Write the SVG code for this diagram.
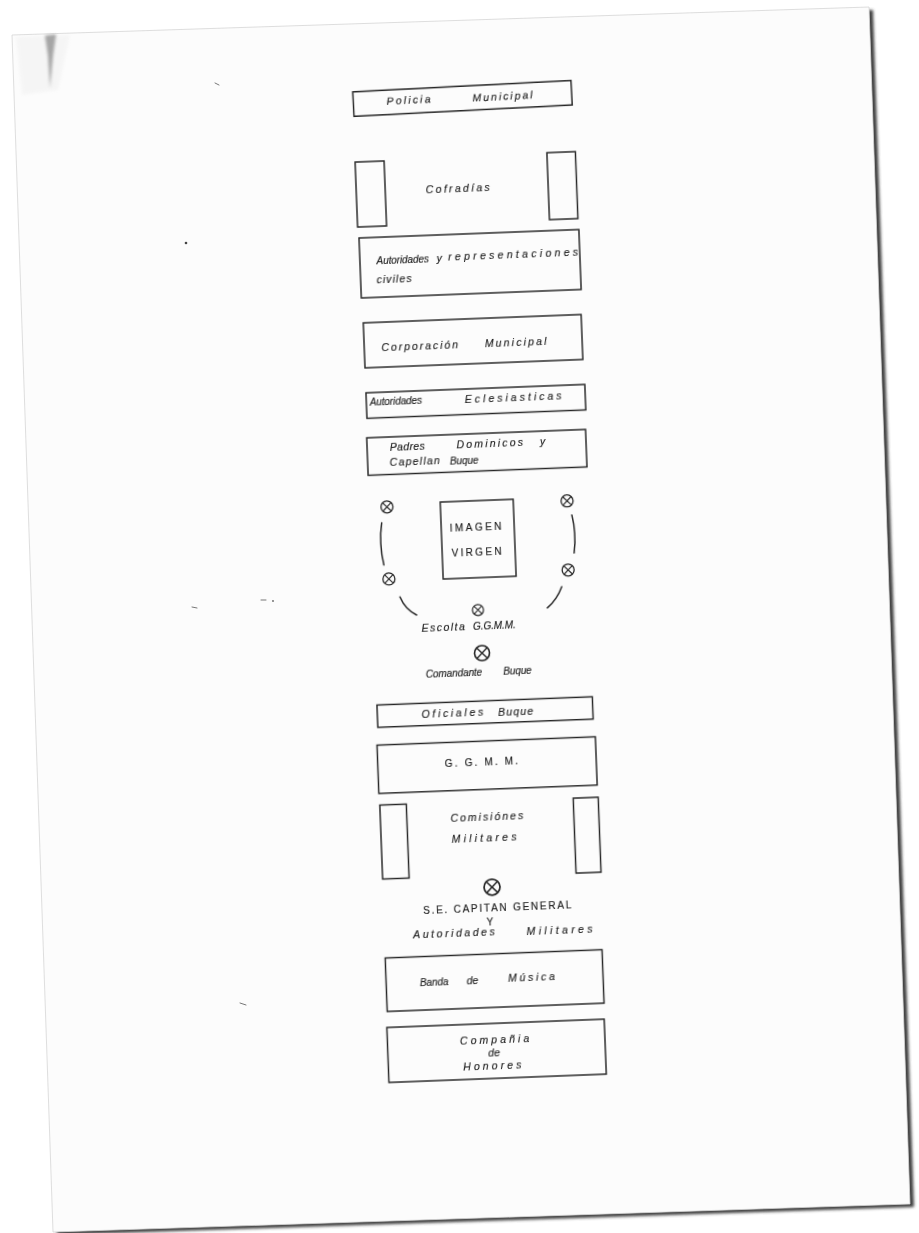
<svg xmlns="http://www.w3.org/2000/svg" width="919" height="1233" viewBox="0 0 919 1233">
<defs>
<style>
.box{fill:none;stroke:#262626;stroke-width:1.45}
.t{font-family:"Liberation Sans","DejaVu Sans",sans-serif;font-size:10.5px;font-style:italic;fill:#1c1c1c;stroke:#1c1c1c;stroke-width:0.15}
.caps{font-style:normal;font-size:10px}
.sm{font-size:10px;letter-spacing:-0.1px}
.arc{fill:none;stroke:#2a2a2a;stroke-width:1.5;stroke-linecap:round}
.speck{fill:none;stroke:#777;stroke-width:1;stroke-linecap:round}
</style>
<filter id="sh" x="-5%" y="-5%" width="110%" height="110%"><feGaussianBlur stdDeviation="1.8"/></filter>
<filter id="smudge" x="-50%" y="-50%" width="200%" height="200%"><feGaussianBlur stdDeviation="1.6"/></filter>
<filter id="soft"><feGaussianBlur stdDeviation="0.3"/></filter>
<g id="ox"><circle r="6" fill="none" stroke="#262626" stroke-width="1.3"/><path d="M-4.2,-4.2L4.2,4.2M-4.2,4.2L4.2,-4.2" stroke="#262626" stroke-width="1.1"/></g>
</defs>
<rect width="919" height="1233" fill="#ffffff"/>
<g id="page">
<polygon points="16,38 873,10 914,1207 57,1235" fill="#3f3f3f" filter="url(#sh)"/>
<polygon points="12,35 869,7 910,1204 53,1232" fill="#fcfcfc" stroke="#d6d6d6" stroke-width="0.8"/>
<polygon points="45,36 56,35 53,56 50,88 48,56" fill="#555" filter="url(#smudge)" opacity="0.8"/>
<polygon points="16,37 70,35 58,90 22,95" fill="#ececec" filter="url(#smudge)" opacity="0.4"/>
</g>
<g id="specks">
<path class="speck" d="M215,83 l4,2"/>
<circle cx="186" cy="243" r="1.3" fill="#444"/>
<path class="speck" d="M261,600 l5,0"/>
<circle cx="273" cy="601" r="0.9" fill="#666"/>
<path class="speck" d="M192,607 l5,1"/>
<path class="speck" d="M240,1003 l6,2"/>
</g>
<g id="diagram" transform="rotate(-2.2 470 600)" filter="url(#soft)">
<g id="n-policia" transform="rotate(-0.8 481.7 98.5)">
<rect class="box" x="372.5" y="86.3" width="218.5" height="24.5"/>
<text class="t" x="405.7" y="100.9" textLength="44">Policia</text>
<text class="t" x="491.8" y="102.2" textLength="60">Municipal</text>
</g>
<g id="n-cofradias">
<rect class="box" x="372" y="158" width="29" height="65"/>
<rect class="box" x="564" y="156" width="28.5" height="67"/>
<text class="t" x="441.6" y="192.3" textLength="64">Cofradías</text>
</g>
<g id="n-autoridades-civiles">
<rect class="box" x="373" y="234" width="220" height="60"/>
<text class="t sm" x="389.6" y="260.7">Autoridades</text>
<text class="t" x="449.7" y="260.7">y</text>
<text class="t" x="461.3" y="259.9" textLength="130">representaciones</text>
<text class="t" x="388.9" y="279.7" textLength="35">civiles</text>
</g>
<g id="n-corporacion">
<rect class="box" x="374" y="319" width="218" height="45"/>
<text class="t" x="391.2" y="348.3" textLength="76.6">Corporación</text>
<text class="t" x="494.7" y="347.9" textLength="61.7">Municipal</text>
</g>
<g id="n-autoridades-eclesiasticas">
<rect class="box" x="374" y="389" width="219" height="25.5"/>
<text class="t sm" x="377.4" y="402.2">Autoridades</text>
<text class="t" x="472.6" y="403.1" textLength="96.7">Eclesiasticas</text>
</g>
<g id="n-padres">
<rect class="box" x="373" y="434" width="219" height="37.5"/>
<text class="t" x="395.7" y="447.6" textLength="35">Padres</text>
<text class="t" x="462.5" y="447.8" textLength="66.6">Dominicos</text>
<text class="t" x="545.9" y="448">y</text>
<text class="t" x="395.1" y="462.9" textLength="50">Capellan</text>
<text class="t sm" x="455.2" y="464.2">Buque</text>
</g>
<g id="n-imagen">
<rect class="box" x="444" y="501" width="73" height="77"/>
<text class="t caps" x="452.6" y="530.9" textLength="51.7">IMAGEN</text>
<text class="t caps" x="453.4" y="556" textLength="50">VIRGEN</text>
</g>
<g id="n-escolta">
<use href="#ox" x="390.6" y="503.8"/>
<use href="#ox" x="570.8" y="504.7"/>
<use href="#ox" x="389.8" y="575.9"/>
<use href="#ox" x="569.2" y="573.8"/>
<use href="#ox" transform="translate(477.6 610.3) scale(0.92)"/>
<text class="t" x="420.5" y="629.8" textLength="43.3">Escolta</text>
<text class="t sm" x="472.1" y="630.1">G.G.M.M.</text>
</g>
<g id="n-comandante">
<use href="#ox" transform="translate(480 653.5) scale(1.25)"/>
<text class="t sm" x="423" y="675.6">Comandante</text>
<text class="t sm" x="500.4" y="676.3">Buque</text>
</g>
<g id="n-oficiales">
<rect class="box" x="373" y="701.4" width="215.5" height="22.3"/>
<text class="t" x="417.2" y="716.4" textLength="61.7">Oficiales</text>
<text class="t" x="493.8" y="717.1" textLength="35">Buque</text>
</g>
<g id="n-ggmm">
<rect class="box" x="371.5" y="741.5" width="218.5" height="48.3"/>
<text class="t caps" x="438.6" y="765.7" textLength="73.3">G. G. M. M.</text>
</g>
<g id="n-comisiones">
<rect class="box" x="372" y="801.5" width="26.5" height="74"/>
<rect class="box" x="565.5" y="802" width="25" height="75"/>
<text class="t" x="442.2" y="821" textLength="72.7">Comisiónes</text>
<text class="t" x="442.4" y="842" textLength="65">Militares</text>
</g>
<g id="n-capitan-general">
<use href="#ox" transform="translate(481 887.8) scale(1.33)"/>
<text class="t caps" x="411.2" y="912.2" textLength="148.3">S.E. CAPITAN GENERAL</text>
<text class="t caps" x="474.2" y="925.6">Y</text>
<text class="t" x="400.3" y="935.6" textLength="81.7">Autoridades</text>
<text class="t" x="513.8" y="937.4" textLength="66">Militares</text>
</g>
<g id="n-banda">
<rect class="box" x="371.5" y="954.5" width="217" height="53.5"/>
<text class="t sm" x="405.2" y="984.1">Banda</text>
<text class="t" x="452" y="983.9">de</text>
<text class="t" x="493.6" y="983.2" textLength="46.7">Música</text>
</g>
<g id="n-compania">
<rect class="box" x="370.5" y="1024" width="217.5" height="55"/>
<text class="t" x="443" y="1043.6" textLength="69.3">Compañia</text>
<text class="t" x="470.8" y="1057.4">de</text>
<text class="t" x="445.2" y="1070.4" textLength="58.3">Honores</text>
</g>
<g id="connectors">
<path class="arc" d="M384.7,519.6 Q381,540 385.3,561.7"/>
<path class="arc" d="M400.1,594.3 Q405,607 416.1,613"/>
<path class="arc" d="M575,518.9 Q579,537 575.9,557"/>
<path class="arc" d="M562.2,590.3 Q557,603 547,610.9"/>
</g>
</g>
</svg>
